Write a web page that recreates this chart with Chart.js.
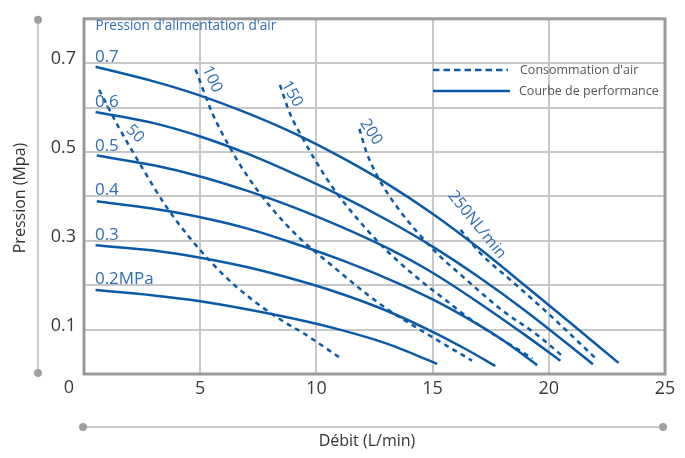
<!DOCTYPE html>
<html><head><meta charset="utf-8">
<script src="https://cdn.jsdelivr.net/npm/chart.js@4.4.1/dist/chart.umd.min.js"></script>
<style>html,body{margin:0;padding:0;background:#fff}#wrap{width:685px;height:458px;position:relative}</style>
</head><body><div id="wrap"><canvas id="c" width="685" height="458"></canvas></div>
<script>
// ---- tick labels ----
const xTickValues = [0, 5, 10, 15, 20, 25];
const yTickShown = [0.1, 0.3, 0.5, 0.7];

// ---- performance curves (supply pressure), flow L/min vs pressure MPa ----
const p07X = [0.5, 3, 5, 7, 9, 11, 13, 15, 17, 19, 21, 23];
const p07Y = [0.692, 0.659, 0.627, 0.588, 0.543, 0.490, 0.430, 0.361, 0.283, 0.198, 0.112, 0.025];
const p06X = [0.5, 3, 5, 7, 9, 11, 13, 15, 17, 19, 21.9];
const p06Y = [0.590, 0.565, 0.535, 0.497, 0.452, 0.403, 0.348, 0.287, 0.218, 0.142, 0.022];
const p05X = [0.55, 3, 5, 7, 9, 11, 13, 15, 17, 19, 20.5];
const p05Y = [0.492, 0.470, 0.445, 0.413, 0.376, 0.333, 0.285, 0.228, 0.160, 0.087, 0.030];
const p04X = [0.55, 3, 5, 7, 9, 11, 13, 15, 17, 18, 19.5];
const p04Y = [0.389, 0.372, 0.353, 0.328, 0.295, 0.258, 0.216, 0.168, 0.110, 0.077, 0.020];
const p03X = [0.5, 3, 5, 7, 9, 11, 13, 15, 16.5, 17.7];
const p03Y = [0.290, 0.278, 0.262, 0.241, 0.214, 0.182, 0.143, 0.095, 0.054, 0.018];
const p02X = [0.5, 3, 5, 7, 9, 11, 13, 15.2];
const p02Y = [0.189, 0.177, 0.164, 0.146, 0.125, 0.100, 0.069, 0.023];

// ---- air consumption curves (NL/min) ----
const c50X = [0.65, 1.5, 2.5, 3.5, 4.5, 5.5, 6.5, 7.5, 8.5, 9.5, 11.0];
const c50Y = [0.640, 0.555, 0.465, 0.380, 0.310, 0.250, 0.199, 0.157, 0.121, 0.090, 0.037];
const c100X = [4.8, 5.5, 6.3, 7.0, 8.0, 9.3, 10.7, 11.9, 13.0, 14.8, 16.7];
const c100Y = [0.686, 0.590, 0.508, 0.448, 0.378, 0.305, 0.243, 0.191, 0.148, 0.089, 0.030];
const c150X = [8.43, 8.86, 9.42, 10.0, 10.7, 11.45, 12.7, 13.6, 14.8, 15.6, 16.5, 19.3];
const c150Y = [0.651, 0.587, 0.530, 0.477, 0.420, 0.369, 0.295, 0.250, 0.197, 0.165, 0.128, 0.035];
const c200X = [11.85, 12.15, 12.6, 13.05, 13.6, 14.4, 15.3, 16.2, 17.0, 18.0, 19.5, 20.6];
const c200Y = [0.552, 0.500, 0.448, 0.408, 0.367, 0.316, 0.266, 0.224, 0.187, 0.143, 0.088, 0.040];
const c250X = [16.2, 17.0, 18.5, 20.0, 22.1];
const c250Y = [0.325, 0.275, 0.205, 0.135, 0.031];

const supplyLabels = ['0.7', '0.6', '0.5', '0.4', '0.3', '0.2MPa'];
const supplyValues = [0.7, 0.6, 0.5, 0.4, 0.3, 0.2];
const consumptionLabels = ['50', '100', '150', '200', '250NL/min'];

const BLUE = '#0b5aa8';
const LABEL_BLUE = '#2f6db6';
const FONT = "'Open Sans', 'DejaVu Sans', sans-serif";

function pts(xs, ys) { return xs.map((x, i) => ({ x: x, y: ys[i] })); }
function solid(xs, ys, name) {
  return { label: name, data: pts(xs, ys), borderColor: BLUE, borderWidth: 2.5, pointRadius: 0,
    fill: false, cubicInterpolationMode: 'monotone' };
}
function dashed(xs, ys, name) {
  return { label: name, data: pts(xs, ys), borderColor: BLUE, borderWidth: 2.5, pointRadius: 0,
    fill: false, cubicInterpolationMode: 'monotone', borderDash: [5, 4.5] };
}

const datasets = [
  solid(p07X, p07Y, supplyLabels[0]), solid(p06X, p06Y, supplyLabels[1]),
  solid(p05X, p05Y, supplyLabels[2]), solid(p04X, p04Y, supplyLabels[3]),
  solid(p03X, p03Y, supplyLabels[4]), solid(p02X, p02Y, supplyLabels[5]),
  dashed(c50X, c50Y, consumptionLabels[0]), dashed(c100X, c100Y, consumptionLabels[1]),
  dashed(c150X, c150Y, consumptionLabels[2]), dashed(c200X, c200Y, consumptionLabels[3]),
  dashed(c250X, c250Y, consumptionLabels[4])
];

// anchor points (data units) and angles for consumption labels
const consLabelAnchors = [[2.19, 0.541, 45], [5.51, 0.664, 65], [8.95, 0.631, 60], [12.35, 0.545, 57], [16.91, 0.336, 51]];

const decor = {
  id: 'decor',
  beforeDatasetsDraw(chart) {
    const ctx = chart.ctx, a = chart.chartArea;
    ctx.save();
    ctx.strokeStyle = '#9a9a9a';
    ctx.lineWidth = 3;
    ctx.strokeRect(a.left, a.top, a.right - a.left, a.bottom - a.top);
    ctx.restore();
  },
  afterDraw(chart) {
    const ctx = chart.ctx, a = chart.chartArea;
    const xs = chart.scales.x, ys = chart.scales.y;
    ctx.save();
    // side axis rulers
    const vx = a.left - 46, hy = a.bottom + 53;
    ctx.strokeStyle = '#b8b8b8'; ctx.lineWidth = 1.5;
    ctx.beginPath(); ctx.moveTo(vx, a.top + 1); ctx.lineTo(vx, a.bottom - 1); ctx.stroke();
    ctx.beginPath(); ctx.moveTo(a.left - 1, hy); ctx.lineTo(a.right - 2, hy); ctx.stroke();
    ctx.fillStyle = '#a0a0a0';
    [[vx, a.top + 1], [vx, a.bottom - 1], [a.left - 1, hy], [a.right - 2, hy]].forEach(p => {
      ctx.beginPath(); ctx.arc(p[0], p[1], 4, 0, Math.PI * 2); ctx.fill();
    });
    // axis titles
    ctx.fillStyle = '#333';
    ctx.font = "16px " + FONT;
    ctx.textAlign = 'center'; ctx.textBaseline = 'middle';
    ctx.fillText('Débit (L/min)', 367, 441);
    ctx.save();
    ctx.translate(20, 198); ctx.rotate(-Math.PI / 2);
    ctx.fillText('Pression (Mpa)', 0, 0);
    ctx.restore();
    // origin label
    ctx.font = "18px " + FONT;
    ctx.fillStyle = '#3a3a3a';
    ctx.fillText('0', xs.getPixelForValue(0) - 15, a.bottom + 14);
    // title inside plot
    ctx.fillStyle = LABEL_BLUE;
    ctx.textAlign = 'left'; ctx.textBaseline = 'alphabetic';
    ctx.font = "13.6px " + FONT;
    ctx.fillText("Pression d'alimentation d'air", xs.getPixelForValue(0.5), 30);
    // supply labels
    ctx.font = "17px " + FONT;
    supplyLabels.forEach((t, i) => {
      ctx.fillText(t, xs.getPixelForValue(0.47), ys.getPixelForValue(supplyValues[i]) - 1);
    });
    // consumption labels (rotated)
    ctx.font = "16px " + FONT;
    ctx.textAlign = 'center'; ctx.textBaseline = 'middle';
    consumptionLabels.forEach((t, i) => {
      const an = consLabelAnchors[i];
      ctx.save();
      ctx.translate(xs.getPixelForValue(an[0]), ys.getPixelForValue(an[1]));
      ctx.rotate(an[2] * Math.PI / 180);
      ctx.fillText(t, 0, 0);
      ctx.restore();
    });
    // legend
    ctx.strokeStyle = BLUE; ctx.lineWidth = 2.5;
    ctx.setLineDash([6.5, 4]);
    ctx.beginPath(); ctx.moveTo(433, 70); ctx.lineTo(508, 70); ctx.stroke();
    ctx.setLineDash([]);
    ctx.beginPath(); ctx.moveTo(433, 91); ctx.lineTo(510, 91); ctx.stroke();
    ctx.fillStyle = '#555';
    ctx.font = "12.5px " + FONT;
    ctx.textAlign = 'left'; ctx.textBaseline = 'middle';
    ctx.fillText("Consommation d'air", 520, 70);
    ctx.fillText('Courbe de performance', 519, 91);
    ctx.restore();
  }
};

new Chart(document.getElementById('c'), {
  type: 'line',
  data: { datasets: datasets },
  options: {
    responsive: false, animation: false, devicePixelRatio: 1,
    layout: { padding: { top: 10, right: 20, bottom: 54, left: 0 } },
    plugins: { legend: { display: false }, tooltip: { enabled: false } },
    scales: {
      x: {
        type: 'linear', min: 0, max: 25,
        afterBuildTicks(s) { s.ticks = xTickValues.map(v => ({ value: v })); },
        afterFit(s) { s.height = 30; },
        ticks: { color: '#3a3a3a', font: { size: 18, family: FONT }, padding: 4,
          callback: v => (v === 0 ? '' : String(v)) },
        grid: { color: '#c8c8c8', lineWidth: 2, drawTicks: false },
        border: { display: false }
      },
      y: {
        type: 'linear', min: 0, max: 0.8,
        ticks: { stepSize: 0.1, color: '#3a3a3a', font: { size: 18, family: FONT }, padding: 8,
          labelOffset: -4,
          callback: v => { const r = Math.round(v * 10) / 10; return yTickShown.includes(r) ? r.toFixed(1) : ''; } },
        afterFit(s) { s.width = 84; },
        grid: { color: '#c8c8c8', lineWidth: 2, drawTicks: false },
        border: { display: false }
      }
    }
  },
  plugins: [decor]
});
</script>
</body></html>
